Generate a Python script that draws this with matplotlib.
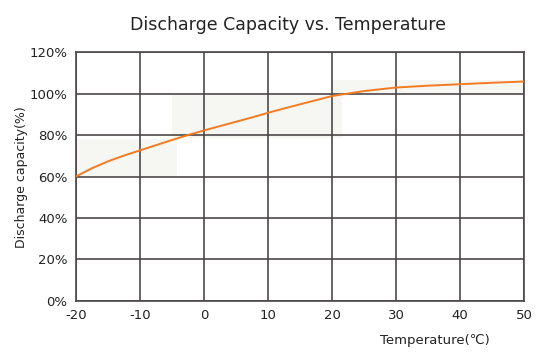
import matplotlib.pyplot as plt
from matplotlib.patches import Rectangle

plt.rcParams['axes.unicode_minus'] = False

# data
temps = [-20, -17.5, -15, -12.5, -10, -7.5, -5, -2.5, 0, 2.5, 5, 7.5, 10, 12.5, 15, 17.5,
         20, 22.5, 25, 30, 35, 40, 45, 50]
capacity = [60, 64.0, 67.3, 70.1, 72.6, 75.1, 77.6, 80, 82.2, 84.3, 86.4, 88.5, 90.7, 92.8,
            94.8, 96.8, 98.8, 100, 101.2, 102.9, 103.8, 104.5, 105.2, 105.8]
xticks = [-20, -10, 0, 10, 20, 30, 40, 50]
yticks = [0, 20, 40, 60, 80, 100, 120]

grid_col = '#4d4749'
orange = '#f47b20'

fig = plt.figure(figsize=(5.5, 3.59), dpi=100)
ax = fig.add_axes([0.138, 0.1616, 0.815, 0.6934])

# faint background blocks seen in the source image
shade = '#f6f6f3'
for x0, y0, w, h in [(-20, 60, 15.8, 18), (-5, 78.5, 26.5, 21), (20, 100, 30, 6.5)]:
    ax.add_patch(Rectangle((x0, y0), w, h, facecolor=shade, edgecolor='none', zorder=0))

ax.plot(temps, capacity, color=orange, lw=1.4, zorder=3)

ax.set_xlim(-20, 50)
ax.set_ylim(0, 120)
ax.set_xticks(xticks)
ax.set_yticks(yticks)
ax.set_yticklabels([f'{v}%' for v in yticks])
ax.grid(True, color=grid_col, lw=1.2, zorder=1)
ax.set_axisbelow(True)
for s in ax.spines.values():
    s.set_color(grid_col)
    s.set_linewidth(1.2)
ax.tick_params(length=0, labelsize=9.5, colors='#222222', pad=6)

fig.text(0.524, 0.93, 'Discharge Capacity vs. Temperature', ha='center', va='center',
         fontsize=12.5, color='#222222')
fig.text(0.04, 0.508, 'Discharge capacity(%)', rotation=90, ha='center', va='center',
         fontsize=9, color='#222222')
fig.text(0.89, 0.052, 'Temperature(\u2103)', ha='right', va='center', fontsize=9.5, color='#222222')

fig.savefig('out.png', dpi=100)
